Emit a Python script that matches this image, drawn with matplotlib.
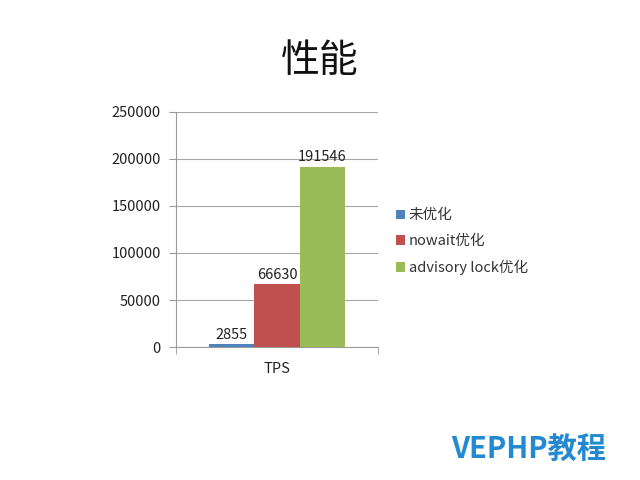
import matplotlib
matplotlib.use("Agg")
import matplotlib.pyplot as plt
from matplotlib.patches import Patch

plt.rcParams['font.family'] = ['Noto Sans CJK SC', 'DejaVu Sans']

title = "性能"
categories = ["TPS"]
series_names = ["未优化", "nowait优化", "advisory lock优化"]
series_values = [[2855], [66630], [191546]]
colors = ["#4F81BD", "#C0504D", "#9BBB59"]
yticks = [0, 50000, 100000, 150000, 200000, 250000]

fig = plt.figure(figsize=(6.4, 4.8), dpi=100)
ax = fig.add_axes([0.275, 0.277, 0.3156, 0.49])

width = 0.223
offsets = [-width, 0, width]
handles = []
for name, vals, c, off in zip(series_names, series_values, colors, offsets):
    xs = [i + off for i in range(len(categories))]
    ax.bar(xs, vals, width=width, color=c, zorder=3, label=name)
    for x, v in zip(xs, vals):
        ax.text(x, v + 3000, str(v), ha='center', va='bottom', fontsize=10.5, color='#222222')
    handles.append(Patch(facecolor=c, label=name))

ax.set_xlim(-0.5, 0.5)
ax.set_ylim(0, 250000)
ax.set_yticks(yticks)
ax.set_yticklabels([str(t) for t in yticks], fontsize=10.5, color='#222222')
ax.set_xticks(range(len(categories)))
ax.set_xticklabels(categories, fontsize=10.5, color='#222222')
ax.tick_params(axis='x', length=0, pad=11)
ax.set_xticks([-0.5, 0.5], minor=True)
ax.tick_params(axis='x', which='minor', length=5, color='#9a9a9a')
ax.tick_params(axis='y', length=5, color='#9a9a9a', pad=6)
ax.grid(axis='y', color='#a6a6a6', linewidth=0.8, zorder=0)
for s in ['top', 'right']:
    ax.spines[s].set_visible(False)
ax.spines['left'].set_color('#9a9a9a')
ax.spines['bottom'].set_color('#9a9a9a')

fig.text(0.5, 0.873, title, ha='center', va='center', fontsize=28, color='#111111')

leg = fig.legend(handles=handles, loc='upper left', bbox_to_anchor=(0.598, 0.593),
                 frameon=False, fontsize=10.5, handlelength=0.6, handleheight=0.6,
                 handletextpad=0.3, labelspacing=0.8)
for t in leg.get_texts():
    t.set_color('#333333')

fig.text(0.705, 0.063, "VEPHP教程", ha='left', va='center', fontsize=21,
         color='#2389D0', fontweight='bold')

fig.savefig("out.png", dpi=100)
